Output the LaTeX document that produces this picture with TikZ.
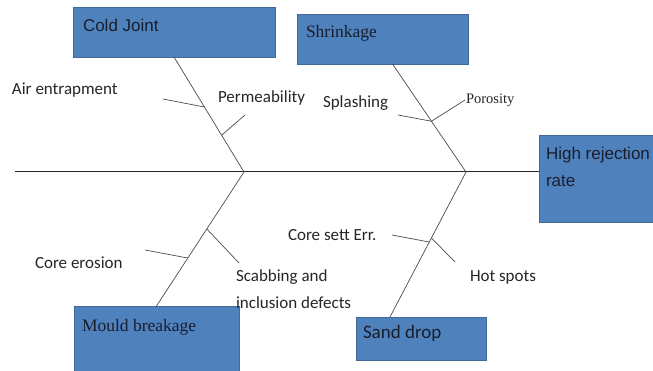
\documentclass[tikz,border=0pt]{standalone}
\usepackage{fontspec}
\setmainfont{Carlito}
\newfontfamily\arialfont{Liberation Sans}
\newfontfamily\timesfont{Liberation Serif}
\usetikzlibrary{calc}
\definecolor{boxblue}{RGB}{79,129,189}
\definecolor{boxline}{RGB}{65,105,150}
\definecolor{boxtext}{RGB}{25,30,45}

\begin{document}
\begin{tikzpicture}[y=1pt, x=1pt, yscale=-1, inner sep=0pt, outer sep=0pt,
	box/.style={rectangle, draw=boxline, fill=boxblue, line width=0.8},
	boxlbl/.style={anchor=west, align=left, text=boxtext},
	lbl/.style={anchor=west, align=left, text=black!85, font=\fontsize{17}{27}\selectfont},
	bone/.style={draw=black!70, line width=0.7},
	spine/.style={draw=black!85, line width=1.0}]
\useasboundingbox[fill=white] (0,0) rectangle (653,371);
	% boxes
	\node[box, minimum width=202, minimum height=50] (cold) at (174,32) {};
	\node[box, minimum width=171, minimum height=50] (shrink) at (382.5,39) {};
	\node[box, minimum width=121, minimum height=87] (high) at (599.5,178.5) {};
	\node[box, minimum width=165, minimum height=70] (mould) at (156.5,341) {};
	\node[box, minimum width=130, minimum height=43] (sand) at (421,338.5) {};
	\node[boxlbl, font=\arialfont\fontsize{17}{20}\selectfont] (coldT) at (83,25) {Cold Joint};
	\node[boxlbl, font=\timesfont\fontsize{17.5}{20}\selectfont] (shrinkT) at (306,33) {Shrinkage};
	\node[boxlbl, font=\arialfont\fontsize{17}{27}\selectfont] (highT) at (546,166.5) {High rejection\\rate};
	\node[boxlbl, font=\timesfont\fontsize{17.5}{20}\selectfont] (mouldT) at (82,327) {Mould breakage};
	\node[boxlbl, font=\fontsize{19}{22}\selectfont] (sandT) at (363,333) {Sand drop};
	% spine and main bones
	\coordinate (tail) at (15,172);
	\coordinate (jc) at (244,172);
	\coordinate (js) at (466,172);
	\coordinate (sb) at ($(shrink.south)+(10,0)$);
	\coordinate (db) at ($(sand.north west)+(34,0)$);
	\draw[spine] (tail) -- (tail -| high.west);
	\draw[bone] (cold.south) -- (jc);
	\draw[bone] (sb) -- (js);
	\draw[bone] (jc) -- (mould.north);
	\draw[bone] (js) -- (db);
	% small bones
	\coordinate (airA) at ($(cold.south)!.435!(jc)$);
	\coordinate (air0) at (163,99);
	\coordinate (permA) at ($(cold.south)!.68!(jc)$);
	\coordinate (perm0) at (245,115);
	\coordinate (splA) at ($(sb)!.53!(js)$);
	\coordinate (spl0) at (398,115);
	\coordinate (por0) at (465,100);
	\coordinate (scabA) at ($(jc)!.425!(mould.north)$);
	\coordinate (scab0) at (239,263);
	\coordinate (eroA) at ($(jc)!.642!(mould.north)$);
	\coordinate (ero0) at (145,250);
	\coordinate (settA) at ($(js)!.483!(db)$);
	\coordinate (sett0) at (392,235);
	\coordinate (hotA) at ($(js)!.455!(db)$);
	\coordinate (hot0) at (455,262);
	\draw[bone] (air0) -- (airA);
	\draw[bone] (permA) -- (perm0);
	\draw[bone] (spl0) -- (splA);
	\draw[bone] (splA) -- (por0);
	\draw[bone] (scabA) -- (scab0);
	\draw[bone] (ero0) -- (eroA);
	\draw[bone] (sett0) -- (settA);
	\draw[bone] (hotA) -- (hot0);
	% labels
	\node[lbl] (air) at (12,90) {Air entrapment};
	\node[lbl] (perm) at (218,98) {Permeability};
	\node[lbl] (splash) at (323,103) {Splashing};
	\node[lbl, font=\timesfont\fontsize{14.5}{17}\selectfont] (poro) at (466,100) {Porosity};
	\node[lbl] (ero) at (35,263) {Core erosion};
	\node[lbl] (scab) at (236,289.5) {Scabbing and\\inclusion defects};
	\node[lbl] (sett) at (288,235) {Core sett Err.};
	\node[lbl] (hot) at (470,277) {Hot spots};
\end{tikzpicture}
\end{document}
